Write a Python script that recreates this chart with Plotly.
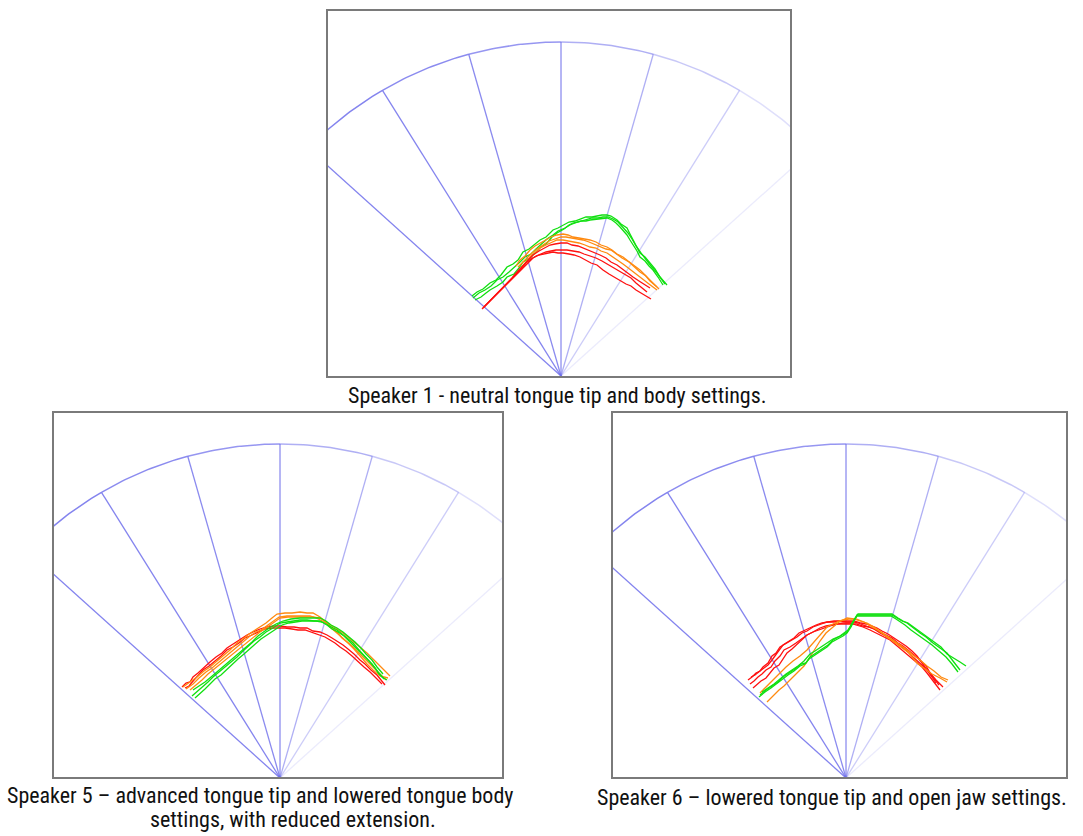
import math
import plotly.graph_objects as go

W, H = 1083, 836

# ---------------- fan (probe) geometry ----------------
SPOKE_ANGLES = [-48, -32, -16, 0, 16, 32, 48]          # degrees from vertical
SPOKE_ALPHA = [0.85, 0.85, 0.8, 0.78, 0.55, 0.35, 0.14]
ARC_BREAKS = [-80, -48, -32, -16, 0, 16, 32, 48, 80]
ARC_ALPHA = [0.85, 0.85, 0.8, 0.72, 0.55, 0.38, 0.22, 0.1]
ARC_CENTER_DY = -20
ARC_RADIUS = 354

# ---------------- panels (pixel boxes) ----------------
PANEL_BOX = [(328, 11, 790, 376), (54, 413, 502, 777), (613, 413, 1066, 777)]
PANEL_APEX = [(561, 376), (280, 778), (846, 778)]

CAPTIONS = [
    ("Speaker 1 - neutral tongue tip and body settings.", 557, 396),
    ("Speaker 5 – advanced tongue tip and lowered tongue body", 260, 795),
    ("settings, with reduced extension.", 293, 819),
    ("Speaker 6 – lowered tongue tip and open jaw settings.", 832, 797),
]

# ---------------- tongue contours (px relative to probe apex) ----------------
# Speaker 1
S1_GREEN_X = [[-89, -84, -78, -71, -65, -60, -54, -48, -43, -38, -32, -27, -21, -15, -8, -3, 2, 8, 14, 19, 25,
               31, 36, 41, 46, 50, 53, 56, 60, 63, 66, 69, 72, 75, 79, 84, 89, 94, 99, 103, 106],
              [-86, -80, -75, -71, -64, -58, -54, -47, -42, -38, -31, -26, -21, -14, -9, -4, 3, 8, 12, 20, 25,
               29, 36, 41, 46, 51, 55, 59, 63, 66, 69, 73, 76, 79, 84, 88, 92, 97, 102],
              [-88, -82, -76, -70, -64, -58, -52, -46, -41, -36, -30, -25, -20, -14, -8, -3, 4, 9, 14, 20, 26,
               31, 37, 42, 47, 52, 57, 62, 67, 71, 75, 80, 85, 90, 96, 100, 104]]
S1_GREEN_Y = [[80, 84, 87, 93, 96, 101, 109, 112, 116, 124, 127, 131, 136, 139, 146, 148, 151, 154, 155, 157, 159,
               159, 160, 161, 161, 160, 158, 156, 152, 150, 148, 142, 136, 131, 123, 119, 113, 107, 99, 95, 91],
              [76, 79, 83, 86, 90, 94, 99, 102, 108, 114, 118, 123, 128, 133, 139, 143, 147, 151, 153, 155, 155,
               156, 157, 158, 158, 156, 153, 149, 145, 141, 136, 130, 125, 119, 115, 110, 106, 99, 91],
              [78, 83, 86, 90, 96, 99, 104, 109, 114, 119, 122, 127, 132, 137, 141, 145, 148, 151, 153, 155, 157,
               158, 158, 159, 159, 157, 154, 149, 143, 137, 130, 123, 116, 110, 103, 97, 92]]
S1_ORANGE_X = [[-45, -41, -36, -31, -26, -21, -15, -10, -4, 2, 7, 12, 18, 23, 29, 35, 40, 46, 51, 56, 62, 67, 72,
                79, 84, 89, 96],
               [-40, -35, -30, -25, -21, -15, -9, -4, 2, 7, 12, 18, 24, 29, 35, 40, 46, 52, 57, 62, 66, 71, 77,
                82, 88, 92, 96],
               [-43, -38, -35, -29, -24, -18, -12, -6, 0, 5, 11, 16, 22, 28, 33, 39, 45, 50, 55, 61, 68, 74, 79,
                85, 90, 94, 98]]
S1_ORANGE_Y = [[110, 116, 120, 126, 130, 133, 136, 139, 141, 142, 141, 139, 138, 137, 136, 134, 131, 129, 126, 122,
                119, 115, 111, 106, 101, 95, 89],
               [108, 114, 120, 124, 128, 131, 134, 136, 136, 135, 134, 133, 131, 129, 128, 125, 123, 119, 116, 112,
                109, 105, 100, 96, 92, 89, 86],
               [109, 114, 118, 123, 127, 131, 135, 137, 139, 139, 138, 137, 136, 134, 132, 130, 127, 126, 122, 118,
                114, 109, 104, 100, 95, 91, 87]]
S1_RED_X = [[-78, -72, -67, -61, -55, -50, -44, -38, -33, -28, -22, -18, -14, -8, -3, 2, 8, 13, 19, 24, 30, 36, 42,
             48, 53, 58, 65, 70, 75, 80, 85, 90],
            [-77, -71, -66, -60, -55, -49, -44, -38, -33, -28, -22, -17, -11, -6, 0, 6, 11, 17, 22, 28, 33, 39, 45,
             50, 56, 61, 66, 72, 78, 84, 89],
            [-79, -73, -68, -62, -56, -51, -45, -40, -35, -30, -25, -20, -15, -10, -5, 0, 6, 12, 18, 23, 29, 35, 41,
             46, 52, 58, 64, 70, 75, 80, 86]]
S1_RED_Y = [[68, 74, 80, 86, 92, 97, 103, 108, 114, 118, 121, 122, 123, 124, 123, 123, 122, 121, 119, 116, 113, 111,
             106, 102, 99, 96, 92, 90, 86, 83, 80, 77],
            [69, 75, 81, 87, 92, 98, 104, 110, 116, 121, 125, 128, 131, 132, 133, 133, 131, 130, 128, 126, 124, 121,
             118, 114, 111, 107, 103, 99, 95, 91, 88],
            [67, 73, 79, 85, 90, 96, 102, 107, 113, 117, 120, 122, 124, 125, 126, 126, 126, 125, 124, 122, 120, 118,
             115, 112, 109, 105, 102, 98, 93, 89, 84]]

# Speaker 5
S5_ORANGE_X = [[-97, -90, -83, -76, -70, -63, -56, -50, -43, -37, -31, -25, -20, -14, -8, -3, 5, 12, 20, 27, 33, 40,
                46, 52, 58, 63, 69, 75, 81, 87, 93, 99, 104, 110],
               [-90, -84, -78, -72, -67, -60, -53, -47, -40, -34, -27, -20, -14, -7, 0, 8, 16, 25, 33, 40, 45, 50,
                56, 62, 68, 73, 80, 86, 93, 100, 106],
               [-94, -87, -81, -74, -68, -62, -55, -48, -42, -36, -30, -24, -19, -12, -6, -1, 7, 15, 23, 30, 36, 41,
                45, 51, 57, 62, 68, 74, 80, 87, 93, 100, 108]]
S5_ORANGE_Y = [[91, 96, 101, 107, 111, 117, 123, 128, 135, 139, 144, 148, 151, 155, 160, 164, 165, 165, 166, 165,
                165, 161, 156, 152, 148, 145, 140, 135, 130, 125, 119, 113, 107, 102],
               [88, 93, 98, 104, 108, 114, 119, 124, 130, 135, 140, 146, 150, 155, 160, 161, 161, 161, 161, 160,
                157, 151, 146, 141, 136, 131, 124, 118, 111, 103, 98],
               [89, 94, 100, 106, 110, 115, 121, 127, 132, 137, 142, 146, 148, 153, 157, 161, 162, 162, 162, 162,
                160, 158, 156, 151, 146, 140, 135, 129, 122, 114, 108, 102, 100]]
S5_RED_X = [[-98, -94, -90, -87, -82, -77, -70, -64, -58, -53, -47, -40, -33, -27, -20, -13, -6, 0, 7, 14, 20, 27,
             33, 40, 47, 52, 57, 63, 68, 74, 80, 85, 91, 97, 101, 105],
            [-95, -91, -86, -81, -77, -71, -65, -59, -53, -47, -41, -35, -28, -22, -15, -8, -1, 5, 12, 18, 25, 31,
             38, 45, 50, 55, 60, 66, 72, 78, 84, 90, 95, 99, 102]]
S5_RED_Y = [[91, 95, 96, 101, 105, 110, 116, 121, 125, 130, 134, 139, 143, 146, 149, 151, 152, 152, 151, 151, 150,
             150, 147, 146, 143, 140, 137, 133, 129, 124, 118, 114, 108, 103, 98, 93],
            [90, 92, 98, 103, 108, 112, 117, 122, 128, 131, 135, 140, 143, 146, 149, 150, 150, 150, 149, 148, 148,
             146, 144, 141, 138, 135, 131, 127, 122, 116, 111, 106, 101, 97, 94]]
S5_GREEN_X = [[-88, -82, -77, -72, -67, -61, -55, -49, -43, -37, -31, -26, -20, -14, -7, 0, 7, 14, 20, 27, 34, 40,
               46, 51, 57, 62, 67, 73, 79, 85, 90, 95, 99, 102, 107],
              [-87, -81, -75, -69, -63, -57, -52, -46, -40, -34, -28, -22, -17, -11, -4, 3, 11, 20, 30, 40, 46, 51,
               57, 63, 69, 75, 81, 86, 92, 97, 103],
              [-85, -79, -75, -70, -65, -59, -54, -48, -42, -36, -30, -25, -19, -13, -6, 2, 9, 16, 22, 29, 36, 42,
               47, 52, 58, 64, 70, 75, 81, 87, 92, 98, 104]]
S5_GREEN_Y = [[82, 87, 91, 96, 101, 106, 111, 116, 121, 127, 132, 137, 141, 146, 150, 155, 156, 157, 158, 158, 157,
               157, 154, 151, 148, 144, 140, 135, 128, 122, 116, 110, 104, 101, 98],
              [88, 92, 96, 101, 106, 111, 116, 121, 126, 131, 136, 142, 146, 150, 154, 157, 159, 160, 160, 160, 157,
               153, 150, 146, 141, 136, 130, 124, 118, 111, 104],
              [80, 85, 89, 94, 99, 103, 108, 114, 119, 124, 129, 134, 139, 143, 148, 153, 155, 156, 157, 157, 157,
               156, 153, 149, 146, 142, 136, 132, 126, 120, 114, 106, 99]]

# Speaker 6
S6_RED_X = [[-98, -94, -90, -86, -83, -78, -74, -70, -66, -61, -56, -49, -44, -39, -33, -27, -19, -12, -5, 1, 8,
             12, 17, 23, 28, 34, 40, 45, 51, 56, 62, 67, 73, 78, 84, 90, 97],
            [-93, -89, -85, -80, -76, -72, -67, -63, -59, -54, -49, -44, -39, -33, -27, -22, -16, -10, -3, 4, 10,
             17, 24, 30, 37, 44, 50, 57, 64, 70, 76, 81, 87, 94],
            [-96, -92, -88, -84, -80, -75, -71, -66, -62, -56, -50, -45, -39, -33, -26, -20, -14, -8, 1, 10, 17,
             23, 28, 34, 40, 46, 52, 57, 62, 68, 74, 80, 86, 93],
            [-95, -91, -86, -82, -78, -74, -70, -66, -63, -58, -52, -47, -41, -36, -30, -24, -18, -12, -4, 8, 15,
             20, 26, 31, 36, 42, 48, 54, 60, 66, 71, 76, 82, 86, 90]]
S6_RED_Y = [[98, 101, 105, 107, 111, 115, 122, 125, 131, 134, 137, 141, 145, 147, 151, 153, 156, 156, 157, 156, 156,
             155, 153, 151, 149, 145, 142, 139, 135, 131, 126, 121, 116, 111, 105, 98, 91],
            [90, 94, 97, 100, 105, 110, 113, 119, 125, 129, 134, 139, 143, 146, 148, 150, 152, 154, 155, 155, 153,
             151, 148, 145, 142, 138, 133, 127, 121, 116, 111, 105, 97, 88],
            [94, 97, 101, 104, 108, 111, 117, 122, 128, 131, 135, 139, 143, 146, 150, 152, 153, 154, 154, 154, 152,
             151, 149, 146, 143, 140, 135, 132, 128, 123, 118, 112, 102, 93],
            [101, 103, 107, 110, 113, 118, 124, 129, 133, 136, 140, 145, 148, 150, 153, 155, 156, 157, 157, 157, 155,
             154, 152, 150, 147, 144, 140, 136, 132, 127, 122, 115, 107, 101, 95]]
S6_ORANGE_X = [[-86, -81, -76, -71, -66, -60, -53, -46, -39, -34, -29, -24, -19, -13, -7, -3, 3, 10, 18, 26, 33, 41,
                48, 55, 63, 71, 78, 86, 94, 101],
               [-79, -75, -71, -67, -62, -57, -52, -47, -42, -36, -31, -26, -20, -13, -7, 1, 8, 14, 21, 28, 35, 41,
                47, 53, 60, 67, 74, 81, 88, 95, 102]]
S6_ORANGE_Y = [[85, 90, 96, 101, 105, 111, 117, 122, 128, 134, 140, 146, 151, 154, 157, 158, 159, 159, 156, 151,
                147, 141, 136, 131, 125, 115, 110, 104, 100, 96],
               [76, 80, 85, 88, 92, 97, 103, 108, 112, 121, 129, 137, 145, 151, 156, 160, 159, 157, 155, 151, 146,
                142, 138, 134, 129, 123, 118, 112, 107, 101, 98]]
S6_GREEN_X = [[-86, -80, -74, -68, -63, -57, -51, -45, -40, -36, -30, -24, -18, -13, -7, -2, 1, 5, 8, 11, 20, 30, 38,
               46, 51, 56, 61, 67, 74, 80, 87, 94, 101, 107, 114],
              [-84, -78, -72, -66, -60, -54, -48, -42, -36, -31, -25, -19, -13, -6, -1, 2, 6, 9, 12, 22, 32, 40, 46,
               52, 57, 62, 69, 75, 82, 88, 95, 101, 108, 114, 120],
              [-87, -81, -75, -70, -64, -58, -52, -46, -41, -37, -31, -25, -19, -14, -8, -3, 1, 5, 8, 11, 21, 31,
               39, 45, 50, 55, 59, 65, 72, 79, 86, 93, 100, 106, 112]]
S6_GREEN_Y = [[83, 88, 92, 96, 101, 105, 109, 114, 115, 121, 125, 129, 133, 138, 141, 144, 146, 152, 158, 163, 163,
               163, 163, 163, 160, 157, 155, 150, 145, 141, 135, 130, 125, 117, 108],
              [86, 90, 94, 99, 104, 108, 112, 117, 124, 127, 131, 135, 139, 142, 146, 148, 155, 160, 164, 164, 164,
               164, 164, 160, 157, 155, 150, 146, 141, 136, 131, 124, 120, 116, 112],
              [81, 86, 90, 94, 99, 103, 107, 112, 114, 119, 123, 127, 131, 136, 139, 142, 145, 151, 157, 162, 162,
               162, 162, 162, 159, 156, 153, 148, 143, 138, 133, 127, 121, 114, 106]]

GREEN = "#10e010"
ORANGE = "#ff8a10"
RED = "#ff1010"

PANEL_CURVES = [
    [(S1_GREEN_X, S1_GREEN_Y, GREEN), (S1_ORANGE_X, S1_ORANGE_Y, ORANGE), (S1_RED_X, S1_RED_Y, RED)],
    [(S5_RED_X, S5_RED_Y, RED), (S5_ORANGE_X, S5_ORANGE_Y, ORANGE), (S5_GREEN_X, S5_GREEN_Y, GREEN)],
    [(S6_RED_X, S6_RED_Y, RED), (S6_ORANGE_X, S6_ORANGE_Y, ORANGE), (S6_GREEN_X, S6_GREEN_Y, GREEN)],
]

FAN_RGB = (110, 110, 235)


def spoke_end(theta_deg):
    s, c = math.sin(math.radians(theta_deg)), math.cos(math.radians(theta_deg))
    dy = ARC_CENTER_DY
    b = -2 * c * dy
    cc = dy * dy - ARC_RADIUS ** 2
    t = (-b + math.sqrt(b * b - 4 * cc)) / 2
    return t * s, t * c


fig = go.Figure()
layout_axes = {}
for i, (box, apex) in enumerate(zip(PANEL_BOX, PANEL_APEX)):
    n = "" if i == 0 else str(i + 1)
    xa, ya = "x" + n, "y" + n
    x0, y0, x1, y1 = box
    ax, ay = apex
    for ang, al in zip(SPOKE_ANGLES, SPOKE_ALPHA):
        ex, ey = spoke_end(ang)
        fig.add_trace(go.Scatter(x=[0, ex], y=[0, ey], mode="lines", xaxis=xa, yaxis=ya,
                                 line=dict(color="rgba(%d,%d,%d,%.2f)" % (*FAN_RGB, al), width=1.3),
                                 hoverinfo="skip", showlegend=False))
    for k in range(len(ARC_BREAKS) - 1):
        a0, a1 = ARC_BREAKS[k], ARC_BREAKS[k + 1]
        steps = 24
        xs, ys = [], []
        for j in range(steps + 1):
            px, py = spoke_end(a0 + (a1 - a0) * j / steps)
            xs.append(px)
            ys.append(py)
        fig.add_trace(go.Scatter(x=xs, y=ys, mode="lines", xaxis=xa, yaxis=ya,
                                 line=dict(color="rgba(%d,%d,%d,%.2f)" % (*FAN_RGB, ARC_ALPHA[k]), width=1.5),
                                 hoverinfo="skip", showlegend=False))
    for cx, cy, col in PANEL_CURVES[i]:
        for xs, ys in zip(cx, cy):
            fig.add_trace(go.Scatter(x=xs, y=ys, mode="lines", xaxis=xa, yaxis=ya,
                                     line=dict(color=col, width=1.3),
                                     hoverinfo="skip", showlegend=False))
    axis_common = dict(showgrid=False, zeroline=False, showticklabels=False, ticks="",
                       showline=True, mirror=True, linecolor="#7a7a7a", linewidth=2, fixedrange=True)
    layout_axes["xaxis" + n] = dict(domain=[x0 / W, x1 / W], range=[x0 - ax, x1 - ax],
                                    anchor=ya, **axis_common)
    layout_axes["yaxis" + n] = dict(domain=[1 - y1 / H, 1 - y0 / H], range=[ay - y1, ay - y0],
                                    anchor=xa, **axis_common)

annotations = []
for text, cx, cy in CAPTIONS:
    annotations.append(dict(text=text, x=cx / W, y=1 - cy / H, xref="paper", yref="paper",
                            xanchor="center", yanchor="middle", showarrow=False,
                            font=dict(family="Roboto Condensed, Arial Narrow, Liberation Sans Narrow, sans-serif",
                                      size=22, color="#111111")))

fig.update_layout(width=W, height=H, margin=dict(l=0, r=0, t=0, b=0),
                  paper_bgcolor="white", plot_bgcolor="white",
                  annotations=annotations, showlegend=False, **layout_axes)

fig.write_html("out.html", config={"displayModeBar": False},
               post_script="document.body.style.margin='0';document.body.style.padding='0';"
                           "document.documentElement.style.overflow='hidden';")
